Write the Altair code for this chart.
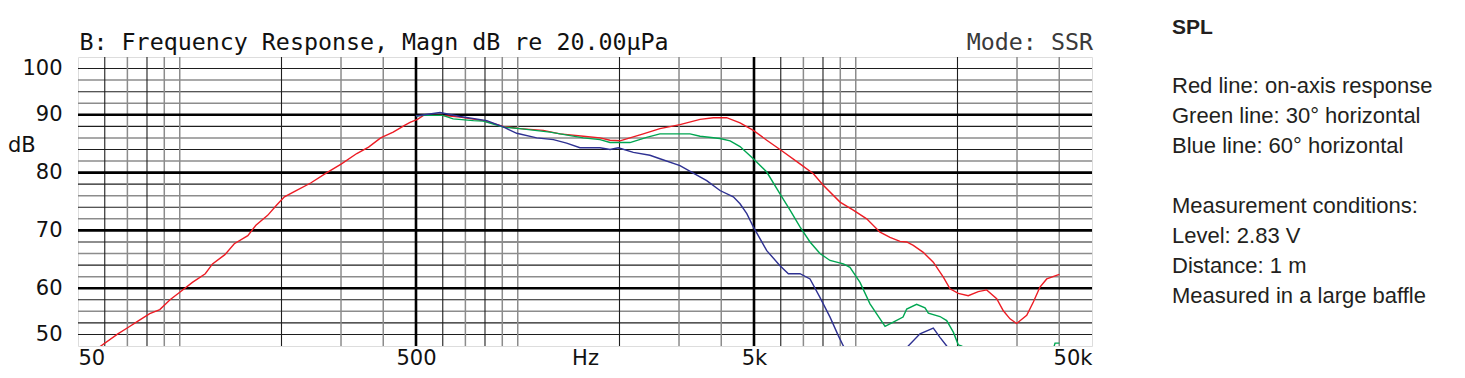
import altair as alt
import pandas as pd

# ---------------- data ----------------
red_f = [55, 58.4, 65.6, 70.3, 75.2, 81.5, 87.3, 93.6, 100, 109, 119, 125, 136, 145, 159, 168, 182, 193,
         204, 221, 244, 271, 301, 334, 362, 393, 428, 464, 480, 505, 526, 596, 675, 791, 906, 1015, 1190,
         1333, 1563, 1751, 1875, 2007, 2148, 2352, 2634, 3020, 3463, 3791, 4150, 4546, 4977, 5454, 5969,
         6839, 7492, 8015, 8985, 9833, 10775, 11800, 12630, 13520, 14150, 14800, 15840, 16960, 18160,
         19010, 20110, 21520, 23040, 24400, 26120, 27330, 28600, 29930, 32050, 33530, 35080, 36730, 40030]
red_db = [48.8, 50.0, 52.1, 53.2, 54.3, 55.6, 56.3, 58.0, 59.3, 61.0, 62.5, 64.2, 65.8, 67.7, 69.1, 70.9,
          72.6, 74.3, 75.8, 76.9, 78.2, 79.9, 81.5, 83.3, 84.4, 86.0, 87.0, 88.2, 88.7, 89.2, 89.9, 89.9,
          89.6, 89.0, 88.0, 87.6, 87.3, 86.7, 86.3, 86.0, 85.6, 85.5, 86.0, 86.7, 87.6, 88.3, 89.2, 89.5,
          89.5, 88.6, 87.3, 85.6, 84.0, 81.5, 79.8, 77.8, 74.9, 73.5, 72.0, 69.7, 68.8, 68.1, 68.0, 67.4,
          66.2, 64.5, 61.9, 59.9, 59.1, 58.7, 59.4, 59.7, 58.2, 56.1, 54.7, 53.9, 55.3, 57.6, 60.2, 61.6, 62.4]

green_f = [500, 526, 600, 644, 739, 791, 906, 1015, 1246, 1563, 1751, 1875, 2148, 2407, 2634, 3233, 3463,
           3966, 4249, 4546, 4977, 5454, 5969, 6392, 6839, 7323, 7836, 8393, 9190, 9613, 10295, 11020,
           12210, 13000, 13800, 14150, 15140, 16030, 16400, 17750, 18580, 19440, 20110, 20600, 21500,
           30000, 38000, 38870, 40030]
green_db = [89.8, 89.9, 89.9, 89.3, 89.0, 88.9, 87.9, 87.6, 87.0, 86.0, 85.7, 85.2, 85.2, 86.1, 86.7, 86.7,
            86.3, 85.9, 85.5, 84.5, 82.4, 80.1, 76.3, 73.5, 70.6, 68.0, 66.0, 64.8, 64.2, 63.6, 61.0, 57.3,
            53.4, 54.2, 55.0, 56.4, 57.2, 56.6, 55.7, 55.1, 54.4, 52.4, 50.2, 50.0, 48.0,
            45.0, 48.5, 50.5, 50.5]

blue_f = [500, 589, 675, 810, 906, 993, 1138, 1275, 1395, 1528, 1751, 1875, 1984, 2198, 2461, 2634, 3020,
          3306, 3623, 3966, 4343, 4546, 4761, 4977, 5454, 5969, 6319, 6839, 7323, 7836, 8393, 8880, 9190,
          9600, 12000, 14000, 14300, 15490, 16960, 17750, 18580, 19500]
blue_db = [89.8, 90.4, 89.7, 89.0, 87.9, 86.8, 86.0, 85.7, 85.1, 84.3, 84.3, 84.0, 84.3, 83.5, 83.0, 82.4,
           81.2, 79.9, 78.6, 76.9, 75.8, 74.6, 72.9, 70.6, 66.5, 63.9, 62.5, 62.5, 61.6, 58.4, 55.0, 51.8,
           50.0, 48.5, 45.0, 49.3, 50.0, 52.1, 53.1, 51.5, 50.0, 48.0]

series_names = ["on-axis", "30°", "60°"]
series_colors = ["#ed1c24", "#00a651", "#2e3192"]

grid_db_dark = [52, 54, 58, 64, 68, 74, 78, 84, 88, 94, 98]
grid_db_grey = [56, 62, 66, 72, 76, 82, 86, 92, 96]
grid_db_major = [60, 70, 80, 90]
grid_f_dark = [60, 80, 200, 600, 800, 2000, 6000, 8000, 20000]
grid_f_grey = [70, 90, 100, 300, 400, 700, 900, 1000, 3000, 4000, 7000, 9000, 10000, 30000, 40000]
grid_f_major = [500, 5000]

x_tick_values = [50, 500, 1581.14, 5000, 50000]
y_tick_values = [52, 60, 70, 80, 90, 98]

title_text = "B: Frequency Response, Magn dB re 20.00μPa"
mode_text = "Mode: SSR"
side_title = "SPL"
side_lines_1 = ["Red line: on-axis response", "Green line: 30° horizontal", "Blue line: 60° horizontal"]
side_lines_2 = ["Measurement conditions:", "Level: 2.83 V", "Distance: 1 m", "Measured in a large baffle"]

# ---------------- build ----------------
rows = []
for name, fs, ds in zip(series_names, [red_f, green_f, blue_f], [red_db, green_db, blue_db]):
    for f, d in zip(fs, ds):
        rows.append({"series": name, "f": f, "db": d})
curves = pd.DataFrame(rows)

xs = alt.Scale(type="log", domain=[50, 50000], nice=False)
ys = alt.Scale(domain=[50, 100], nice=False, zero=False)

x_axis = alt.Axis(values=x_tick_values, title=None, grid=False, ticks=False, domain=False,
                  labelFlush=True, labelOverlap=False, labelFont="DejaVu Sans", labelFontSize=21,
                  labelColor="#111", labelPadding=1,
                  labelExpr="datum.value < 100 ? '50' : datum.value < 1000 ? '500' : datum.value < 2000 ? 'Hz' : datum.value < 10000 ? '5k' : '50k'")
y_axis = alt.Axis(values=y_tick_values, title=None, grid=False, ticks=False, domain=False,
                  labelOverlap=False, labelFont="DejaVu Sans", labelFontSize=21, labelColor="#111",
                  labelPadding=16,
                  labelExpr="datum.value == 52 ? '50' : datum.value == 98 ? '100' : datum.label")


def hrules(vals, color, width):
    return alt.Chart(pd.DataFrame({"db": vals})).mark_rule(color=color, strokeWidth=width).encode(
        y=alt.Y("db:Q", scale=ys, axis=y_axis))


def vrules(vals, color, width):
    return alt.Chart(pd.DataFrame({"f": vals})).mark_rule(color=color, strokeWidth=width).encode(
        x=alt.X("f:Q", scale=xs, axis=x_axis))


lines = alt.Chart(curves).mark_line(clip=True, strokeWidth=1.4).encode(
    x=alt.X("f:Q", scale=xs, axis=x_axis),
    y=alt.Y("db:Q", scale=ys, axis=y_axis),
    color=alt.Color("series:N", scale=alt.Scale(domain=series_names, range=series_colors), legend=None),
)


def label(txt, x, y, font, size, color="#231f20", align="left", weight="normal"):
    return alt.Chart(pd.DataFrame({"t": [txt]})).mark_text(
        font=font, fontSize=size, color=color, align=align, baseline="alphabetic", fontWeight=weight
    ).encode(text="t:N", x=alt.value(x), y=alt.value(y))


def block(lines_list, x, y):
    return alt.Chart(pd.DataFrame({"t": [0]})).mark_text(
        text=lines_list, font="Liberation Sans", fontSize=22, color="#231f20", align="left",
        baseline="alphabetic", lineHeight=30
    ).encode(x=alt.value(x), y=alt.value(y))


chart = alt.layer(
    hrules(grid_db_grey, "#8c8c8c", 1.5),
    hrules(grid_db_dark, "#1e1e1e", 1.1),
    vrules(grid_f_grey, "#8c8c8c", 1.5),
    vrules(grid_f_dark, "#1e1e1e", 1.1),
    hrules(grid_db_major, "#000000", 2.6),
    vrules(grid_f_major, "#000000", 2.6),
    lines,
    label(title_text, 1.5, -7, "DejaVu Sans Mono", 23.3, color="#111111"),
    label(mode_text, 1015, -7, "DejaVu Sans Mono", 23.3, color="#3a3a3a", align="right"),
    label("dB", -70, 95, "DejaVu Sans", 21, color="#111"),
    label(side_title, 1094, -23.5, "Liberation Sans", 21, weight="bold"),
    block(side_lines_1, 1094, 35.5),
    block(side_lines_2, 1094, 156),
).properties(
    width=1014, height=289,
    autosize=alt.AutoSizeParams(type="none"),
    padding={"left": 70, "top": 49, "right": 360, "bottom": 23},
).configure_view(stroke="#000000", strokeWidth=2.6).configure(background="white")

chart.save("out.html", embed_options={"renderer": "svg", "actions": False})
